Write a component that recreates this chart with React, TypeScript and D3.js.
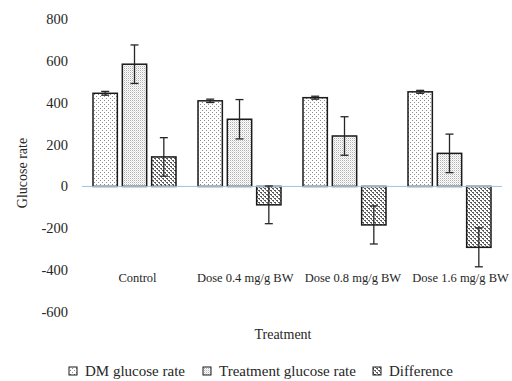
import React from "react";
import * as d3 from "d3";

const categories = ["Control", "Dose 0.4 mg/g BW", "Dose 0.8 mg/g BW", "Dose 1.6 mg/g BW"];
const seriesNames = ["DM glucose rate", "Treatment glucose rate", "Difference"];
const dmValues = [445, 409, 424, 452];
const dmErrors = [9, 8, 7, 7];
const treatValues = [584, 321, 241, 158];
const treatErrors = [92, 94, 92, 92];
const diffValues = [141, -88, -184, -291];
const diffErrors = [92, 90, 91, 93];
const yTicks = [-600, -400, -200, 0, 200, 400, 600, 800];

const values = [dmValues, treatValues, diffValues];
const errors = [dmErrors, treatErrors, diffErrors];
const fills = ["url(#patDM)", "url(#patTreat)", "url(#patDiff)"];

const W = 512;
const H = 381;
const font = "Liberation Serif";
const textColor = "#262626";

const App = () => {
    const x = d3.scaleBand().domain(categories).range([82, 502]);
    const xSub = d3.scaleBand().domain(seriesNames).range([11, 94]).paddingInner(0.17);
    const y = d3.scaleLinear().domain([-600, 800]).range([312, 19]);

    // legend layout
    const legendX = [73, 207, 377];

    return (
        <div style={{ position: "absolute", left: 0, top: 0 }}>
            <svg width={W} height={H} style={{ display: "block" }}>
                <defs>
                    <pattern id="patDM" width="4" height="4" patternUnits="userSpaceOnUse">
                        <rect width="4" height="4" fill="#fff" />
                        <rect x="0" y="0" width="1" height="1" fill="#8a8a8a" />
                        <rect x="2" y="2" width="1" height="1" fill="#8a8a8a" />
                    </pattern>
                    <pattern id="patTreat" width="2" height="2" patternUnits="userSpaceOnUse">
                        <rect width="2" height="2" fill="#fff" />
                        <rect x="0" y="0" width="1" height="1" fill="#b0b0b0" />
                        <rect x="1" y="1" width="1" height="1" fill="#e0e0e0" />
                    </pattern>
                    <pattern id="patDiff" width="4" height="4" patternUnits="userSpaceOnUse">
                        <rect width="4" height="4" fill="#fff" />
                        <rect x="0" y="0" width="2" height="1" fill="#555" />
                        <rect x="2" y="2" width="2" height="1" fill="#555" />
                        <rect x="1" y="1" width="1" height="1" fill="#777" />
                        <rect x="3" y="3" width="1" height="1" fill="#777" />
                    </pattern>
                </defs>

                {/* y tick labels */}
                {yTicks.map((t) => (
                    <text key={t} x={68} y={y(t) + 5} textAnchor="end" fontFamily={font}
                        fontSize={14.5} fill={textColor}>{t}</text>
                ))}

                {/* bars */}
                {seriesNames.map((s, si) =>
                    categories.map((c, ci) => {
                        const v = values[si][ci];
                        const bx = (x(c) as number) + (xSub(s) as number);
                        const bw = xSub.bandwidth();
                        return (
                            <rect key={s + c} x={bx} y={Math.min(y(v), y(0))} width={bw}
                                height={Math.abs(y(v) - y(0))} fill={fills[si]}
                                stroke="#1a1a1a" strokeWidth={1.5} />
                        );
                    })
                )}

                {/* zero line */}
                <line x1={82} x2={502} y1={y(0)} y2={y(0)} stroke="#9dc3e6" strokeWidth={1} />

                {/* error bars */}
                {seriesNames.map((s, si) =>
                    categories.map((c, ci) => {
                        const v = values[si][ci];
                        const e = errors[si][ci];
                        const cx = (x(c) as number) + (xSub(s) as number) + xSub.bandwidth() / 2;
                        return (
                            <g key={"e" + s + c} stroke="#262626" strokeWidth={1.3}>
                                <line x1={cx} x2={cx} y1={y(v + e)} y2={y(v - e)} />
                                <line x1={cx - 4} x2={cx + 4} y1={y(v + e)} y2={y(v + e)} />
                                <line x1={cx - 4} x2={cx + 4} y1={y(v - e)} y2={y(v - e)} />
                            </g>
                        );
                    })
                )}

                {/* category labels (slightly right of group centres, as in the original) */}
                {categories.map((c, ci) => (
                    <text key={c} x={(x(c) as number) + x.bandwidth() / 2 + 3 + ci * 2.7} y={282}
                        textAnchor="middle" fontFamily={font} fontSize={12.5} fill={textColor}>{c}</text>
                ))}

                {/* axis titles */}
                <text x={283} y={339} textAnchor="middle" fontFamily={font} fontSize={14}
                    fill={textColor}>Treatment</text>
                <text transform={`translate(27, 173) rotate(-90)`} textAnchor="middle" fontFamily={font}
                    fontSize={14} fill={textColor}>Glucose rate</text>

                {/* legend */}
                {seriesNames.map((s, si) => (
                    <g key={"l" + s}>
                        <rect x={legendX[si] - 4} y={367} width={8} height={8} fill={fills[si]}
                            stroke="#1a1a1a" strokeWidth={1} />
                        <text x={legendX[si] + 12} y={376} fontFamily={font} fontSize={15}
                            fill={textColor}>{s}</text>
                    </g>
                ))}
            </svg>
        </div>
    );
};

export default App;
